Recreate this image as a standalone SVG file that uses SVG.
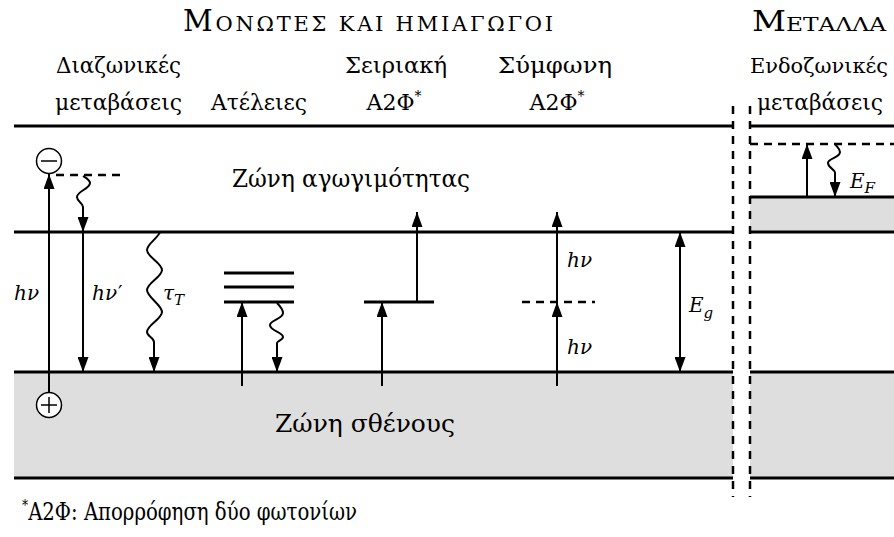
<svg xmlns="http://www.w3.org/2000/svg" width="894" height="537" viewBox="0 0 894 537">
<style>
text{font-family:'DejaVu Serif',serif;fill:#000}
.lbl{font-size:22px}
.hd{font-size:21px}
.hdb{font-size:29px}
.it{font-style:italic;font-size:20px}
.band{stroke:#000;stroke-width:3;fill:none}
.arr{stroke:#000;stroke-width:2;fill:none}
.hdash{stroke:#000;stroke-width:2.5;stroke-dasharray:8 6;fill:none}
.vdash{stroke:#000;stroke-width:2.5;stroke-dasharray:8 7;fill:none}
.grey{fill:#dedede}
.circ{fill:#fff;stroke:#000;stroke-width:1.5}
</style>
<defs>
<marker id="ah" viewBox="0 0 15 11" refX="15" refY="5.5" markerWidth="15" markerHeight="11" markerUnits="userSpaceOnUse" orient="auto-start-reverse">
<path d="M0,0 L15,5.5 L0,11 z" fill="#000"/>
</marker>
</defs>

<g id="bands">
<rect class="grey" x="14" y="372" width="719" height="106"/>
<rect class="grey" x="750" y="197" width="144" height="35"/>
<rect class="grey" x="750" y="372" width="144" height="106"/>
<path class="band" d="M14,126 H733 M14,232 H733 M14,372 H733 M14,478 H733"/>
<path class="band" d="M750,126 H894 M750,197 H894 M750,232 H894 M750,372 H894 M750,478 H894"/>
<path class="hdash" d="M750,144 H894"/>
<path class="vdash" d="M733,106 V497 M750,106 V497"/>
</g>

<g id="headers">
<text x="183" y="31" textLength="370"><tspan class="hdb">Μ</tspan><tspan class="hd">ΟΝΩΤΕΣ ΚΑΙ ΗΜΙΑΓΩΓΟΙ</tspan></text>
<text x="752" y="31" textLength="134" lengthAdjust="spacingAndGlyphs"><tspan font-size="27">Μ</tspan><tspan font-size="19">ΕΤΑΛΛΑ</tspan></text>
<text class="lbl" x="56" y="73" textLength="125" lengthAdjust="spacingAndGlyphs">Διαζωνικές</text>
<text class="lbl" x="55" y="110" textLength="127" lengthAdjust="spacingAndGlyphs">μεταβάσεις</text>
<text class="lbl" x="211" y="110" textLength="96" lengthAdjust="spacingAndGlyphs">Ατέλειες</text>
<text class="lbl" x="345" y="73" textLength="102" lengthAdjust="spacingAndGlyphs">Σειριακή</text>
<text class="lbl" x="394" y="110" text-anchor="middle">Α2Φ<tspan font-size="14" dy="-9">*</tspan></text>
<text class="lbl" x="498" y="73" textLength="114" lengthAdjust="spacingAndGlyphs">Σύμφωνη</text>
<text class="lbl" x="557" y="110" text-anchor="middle">Α2Φ<tspan font-size="14" dy="-9">*</tspan></text>
<text x="750" y="73" font-size="21" textLength="138" lengthAdjust="spacingAndGlyphs">Ενδοζωνικές</text>
<text class="lbl" x="757" y="110" textLength="126" lengthAdjust="spacingAndGlyphs">μεταβάσεις</text>
</g>

<g id="band-labels">
<text x="232" y="187" font-size="24" textLength="238" lengthAdjust="spacingAndGlyphs">Ζώνη αγωγιμότητας</text>
<text x="275" y="432" font-size="24" textLength="180" lengthAdjust="spacingAndGlyphs">Ζώνη σθένους</text>
</g>

<g id="interband">
<path class="arr" d="M49,393 V174" marker-end="url(#ah)"/>
<circle class="circ" cx="49" cy="161" r="12.5"/>
<path d="M41,161 H57" stroke="#000" stroke-width="1.5"/>
<circle class="circ" cx="49" cy="405" r="12.5"/>
<path d="M41,405 H57 M49,397 V413" stroke="#000" stroke-width="1.5"/>
<path class="hdash" d="M56,175 H120"/>
<path class="arr" d="M83,176 C86,178 90,180 90,183 C90,189 77,191 77,197 C77,202 83,203 83,207 V232" marker-end="url(#ah)"/>
<path class="arr" d="M83,232 V372" marker-end="url(#ah)"/>
<path class="arr" d="M160,232 C158,238 147,244 147,250 C147,257 162,263 162,270 C162,277 147,283 147,290 C147,297 162,305 162,312 C162,319 147,325 147,332 C147,336 154,338 154,342 V372" marker-end="url(#ah)"/>
<text class="it" x="14" y="300">hν</text>
<text class="it" x="92" y="300">hν<tspan dx="1" font-style="normal">′</tspan></text>
<text class="it" x="163" y="300">τ<tspan font-size="15" dy="5">T</tspan></text>
</g>

<g id="defects">
<path class="band" d="M224,273 H294 M224,287 H294 M224,302 H294"/>
<path class="arr" d="M242,386 V302" marker-end="url(#ah)"/>
<path class="arr" d="M277,303 C280,306 283,310 283,313 C283,319 270,320 270,325 C270,331 283,332 283,337 C283,340 277,341 277,343 V372" marker-end="url(#ah)"/>
</g>

<g id="sequential">
<path class="band" d="M364,302 H434"/>
<path class="arr" d="M382,386 V302" marker-end="url(#ah)"/>
<path class="arr" d="M417,302 V212" marker-end="url(#ah)"/>
</g>

<g id="coherent">
<path class="hdash" d="M522,302 H595"/>
<path class="arr" d="M557,386 V302" marker-end="url(#ah)"/>
<path class="arr" d="M557,302 V212" marker-end="url(#ah)"/>
<text class="it" x="567" y="267">hν</text>
<text class="it" x="567" y="354">hν</text>
</g>

<g id="gap">
<path class="arr" d="M680,232 V372" marker-start="url(#ah)" marker-end="url(#ah)"/>
<text class="it" x="689" y="312" font-size="23">E<tspan font-size="15" dy="6">g</tspan></text>
</g>

<g id="intraband">
<path class="arr" d="M807,197 V144" marker-end="url(#ah)"/>
<path class="arr" d="M835,144 C837,147 840,149 840,152 C840,158 828,158 828,163 C828,168 835,169 835,173 V197" marker-end="url(#ah)"/>
<text class="it" x="850" y="188" font-size="23">E<tspan font-size="15" dy="5">F</tspan></text>
</g>

<g id="footnote">
<text x="22" y="520" font-size="24" textLength="335" lengthAdjust="spacingAndGlyphs"><tspan font-size="15" dy="-10">*</tspan><tspan dy="10">Α2Φ: Απορρόφηση δύο φωτονίων</tspan></text>
</g>
</svg>
